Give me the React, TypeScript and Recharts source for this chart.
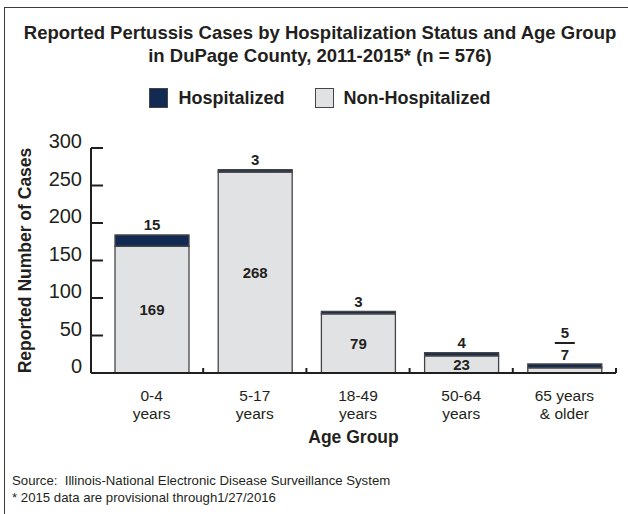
import React from 'react';
import { BarChart, Bar, XAxis, YAxis, LabelList, Label } from 'recharts';

const categories = ['0-4 years', '5-17 years', '18-49 years', '50-64 years', '65 years & older'];
const tickLine1 = ['0-4', '5-17', '18-49', '50-64', '65 years'];
const tickLine2 = ['years', 'years', 'years', 'years', '& older'];
const nonHospitalized = [169, 268, 79, 23, 7];
const hospitalized = [15, 3, 3, 4, 5];
const yTicks = [0, 50, 100, 150, 200, 250, 300];

const HOSP_COLOR = '#132b52';
const NON_COLOR = '#e1e2e4';
const EDGE = '#454545';
const TEXT = '#231f20';
const FONT = "'Liberation Sans', Arial, sans-serif";
const X_PAD = 9;

const data = categories.map((c, i) => ({
  name: c,
  nonHosp: nonHospitalized[i],
  hosp: hospitalized[i],
}));

const YTick = (props: any) => {
  const { x, y, payload } = props;
  return (
    <g>
      <line x1={x + 9} x2={x + 21} y1={y} y2={y} stroke="#1f1f1f" strokeWidth={2} />
      <text x={x} y={y - 7} dy="0.36em" textAnchor="end" fontSize={20} fill={TEXT} fontFamily={FONT}>
        {payload.value}
      </text>
    </g>
  );
};

const XTick = (props: any) => {
  const { x, y, payload, index, width, visibleTicksCount } = props;
  const half = (width - X_PAD) / visibleTicksCount / 2;
  const i = categories.indexOf(payload.value);
  const k = i >= 0 ? i : index;
  return (
    <g>
      <line x1={x + half} x2={x + half} y1={y} y2={y - 5} stroke="#1f1f1f" strokeWidth={2} />
      <text x={x} y={y + 28} textAnchor="middle" fontSize={15.5} fill={TEXT} fontFamily={FONT}>
        {tickLine1[k]}
      </text>
      <text x={x} y={y + 46} textAnchor="middle" fontSize={15.5} fill={TEXT} fontFamily={FONT}>
        {tickLine2[k]}
      </text>
    </g>
  );
};

const nonHospLabel = (props: any) => {
  const { x, y, width, height, value, index } = props;
  const cx = x + width / 2;
  if (height >= 12) {
    return (
      <text x={cx} y={y + height / 2} dy="0.36em" textAnchor="middle" fontSize={15} fontWeight="bold" fill={TEXT} fontFamily={FONT}>
        {value}
      </text>
    );
  }
  const hospH = (hospitalized[index] * height) / value;
  return (
    <text x={cx} y={y - hospH - 9} dy="0.36em" textAnchor="middle" fontSize={15} fontWeight="bold" fill={TEXT} fontFamily={FONT}>
      {value}
    </text>
  );
};

const hospLabel = (props: any) => {
  const { x, y, width, height, value, index } = props;
  const cx = x + width / 2;
  const pxPerUnit = height / value;
  const nonH = nonHospitalized[index] * pxPerUnit;
  if (nonH < 12) {
    return (
      <g>
        <line x1={cx - 10} x2={cx + 10} y1={y - 21} y2={y - 21} stroke={TEXT} strokeWidth={2} />
        <text x={cx} y={y - 31} dy="0.36em" textAnchor="middle" fontSize={15} fontWeight="bold" fill={TEXT} fontFamily={FONT}>
          {value}
        </text>
      </g>
    );
  }
  return (
    <text x={cx} y={y - 10} dy="0.36em" textAnchor="middle" fontSize={15} fontWeight="bold" fill={TEXT} fontFamily={FONT}>
      {value}
    </text>
  );
};

const legendItems = [
  { label: 'Hospitalized', color: HOSP_COLOR },
  { label: 'Non-Hospitalized', color: NON_COLOR },
];

export default function App() {
  return (
    <div style={{ position: 'absolute', left: 0, top: 0, width: 628, height: 514, background: '#fff', overflow: 'hidden', fontFamily: FONT, color: TEXT }}>
      <div style={{ position: 'absolute', left: 4, top: 7, width: 700, height: 600, border: '1.5px solid #3c3c3c' }} />
      <div style={{ position: 'absolute', left: 0, top: 21, width: 640, textAlign: 'center', fontSize: 18.5, fontWeight: 'bold', lineHeight: '23px' }}>
        Reported Pertussis Cases by Hospitalization Status and Age Group
        <br />
        in DuPage County, 2011-2015* (n = 576)
      </div>
      <div style={{ position: 'absolute', left: 0, top: 86, width: 640, display: 'flex', justifyContent: 'center', alignItems: 'center', fontSize: 18, fontWeight: 'bold', height: 24 }}>
        {legendItems.map((it, i) => (
          <div key={it.label} style={{ display: 'flex', alignItems: 'center', marginLeft: i ? 30 : 0 }}>
            <div style={{ width: 17, height: 18, background: it.color, border: `1.5px solid ${EDGE}`, marginRight: 10 }} />
            <span>{it.label}</span>
          </div>
        ))}
      </div>
      <div style={{ position: 'absolute', left: 0, top: 0 }}>
        <BarChart width={628} height={514} data={data} margin={{ top: 148, right: 12, bottom: 71, left: 0 }}>
          <YAxis
            type="number"
            domain={[0, 300]}
            ticks={yTicks}
            width={91}
            tickSize={0}
            tickMargin={9}
            tickLine={false}
            tick={<YTick />}
            axisLine={{ stroke: '#1f1f1f', strokeWidth: 2 }}
            interval={0}
          >
            <Label
              content={(p: any) => {
                const vb = p.viewBox;
                const cx = vb.x + 25;
                const cy = vb.y + vb.height / 2;
                return (
                  <text x={cx} y={cy} transform={`rotate(-90 ${cx} ${cy})`} textAnchor="middle" dy="0.36em" fontSize={17.5} fontWeight="bold" fill={TEXT} fontFamily={FONT}>
                    Reported Number of Cases
                  </text>
                );
              }}
            />
          </YAxis>
          <XAxis
            dataKey="name"
            height={70}
            padding={{ left: X_PAD, right: 0 }}
            tickSize={0}
            tickMargin={0}
            tickLine={false}
            tick={<XTick />}
            interval={0}
            axisLine={{ stroke: '#1f1f1f', strokeWidth: 2 }}
          >
            <Label
              content={(p: any) => {
                const vb = p.viewBox;
                return (
                  <text x={vb.x + vb.width / 2} y={vb.y + 70} textAnchor="middle" fontSize={17.5} fontWeight="bold" fill={TEXT} fontFamily={FONT}>
                    Age Group
                  </text>
                );
              }}
            />
          </XAxis>
          <Bar dataKey="nonHosp" name="Non-Hospitalized" stackId="a" fill={NON_COLOR} stroke={EDGE} strokeWidth={1.3} barSize={74} isAnimationActive={false}>
            <LabelList dataKey="nonHosp" content={nonHospLabel} />
          </Bar>
          <Bar dataKey="hosp" name="Hospitalized" stackId="a" fill={HOSP_COLOR} stroke={EDGE} strokeWidth={1.3} barSize={74} isAnimationActive={false}>
            <LabelList dataKey="hosp" content={hospLabel} />
          </Bar>
        </BarChart>
      </div>
      <div style={{ position: 'absolute', left: 12, top: 472, fontSize: 13.2, lineHeight: '17px' }}>
        Source:&nbsp; Illinois-National Electronic Disease Surveillance System
        <br />* 2015 data are provisional through1/27/2016
      </div>
    </div>
  );
}
